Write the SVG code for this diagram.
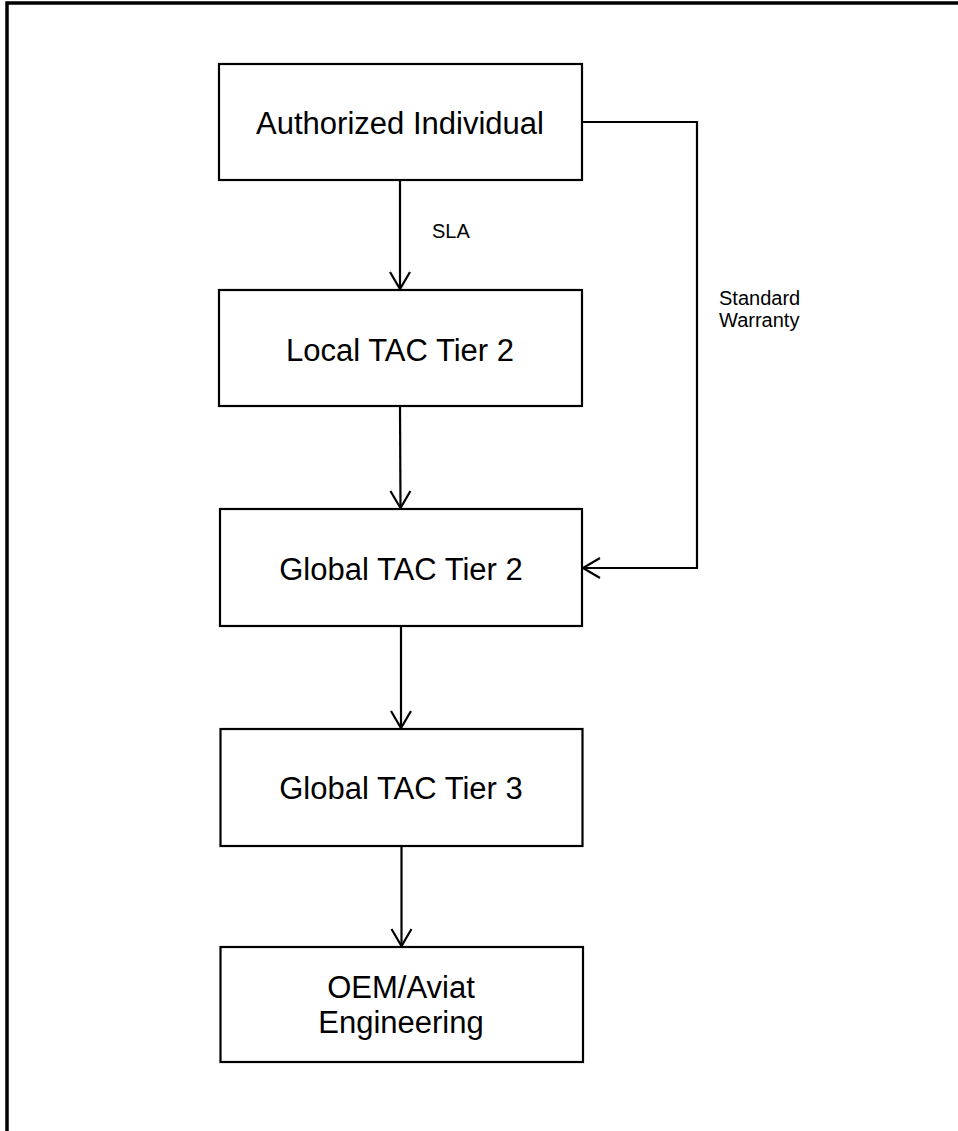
<svg xmlns="http://www.w3.org/2000/svg" width="958" height="1131" viewBox="0 0 958 1131">
<defs>
<style>
.box{fill:#fff;stroke:#000;stroke-width:2.2}
.lbl{font-family:"Liberation Sans",Arial,sans-serif;font-size:31px;fill:#000;text-anchor:middle}
.small{font-family:"Liberation Sans",Arial,sans-serif;font-size:20px;fill:#000}
.conn{fill:none;stroke:#000;stroke-width:2.2}
</style>
<marker id="arr" markerUnits="userSpaceOnUse" markerWidth="24" markerHeight="24" viewBox="-20 -12 24 24" refX="0" refY="0" orient="auto" overflow="visible">
<path d="M-17,-10 L0,0 L-17,10" fill="none" stroke="#000" stroke-width="2.2"/>
</marker>
</defs>
<rect width="958" height="1131" fill="#fff"/>
<rect id="frame" x="7" y="3" width="1000" height="1200" fill="none" stroke="#000" stroke-width="3.5"/>
<g id="connectors">
<line class="conn" x1="400" y1="180" x2="400" y2="289" marker-end="url(#arr)"/>
<line class="conn" x1="400" y1="406" x2="400.5" y2="508" marker-end="url(#arr)"/>
<line class="conn" x1="401" y1="626" x2="401" y2="728" marker-end="url(#arr)"/>
<line class="conn" x1="401.5" y1="846" x2="401.5" y2="946" marker-end="url(#arr)"/>
<polyline class="conn" points="582,122 697,122 697,568 583,568" marker-end="url(#arr)"/>
<text class="small" x="432" y="238">SLA</text>
<text class="small" x="719" y="305">Standard</text>
<text class="small" x="719" y="327">Warranty</text>
</g>
<g id="n1">
<rect class="box" x="219" y="64" width="363" height="116"/>
<text class="lbl" x="400" y="134">Authorized Individual</text>
</g>
<g id="n2">
<rect class="box" x="219" y="290" width="363" height="116"/>
<text class="lbl" x="400" y="361">Local TAC Tier 2</text>
</g>
<g id="n3">
<rect class="box" x="220" y="509" width="362" height="117"/>
<text class="lbl" x="401" y="580">Global TAC Tier 2</text>
</g>
<g id="n4">
<rect class="box" x="220.5" y="729" width="362" height="117"/>
<text class="lbl" x="401" y="799">Global TAC Tier 3</text>
</g>
<g id="n5">
<rect class="box" x="220.5" y="947" width="362.5" height="115"/>
<text class="lbl" x="401" y="998">OEM/Aviat</text>
<text class="lbl" x="401" y="1033">Engineering</text>
</g>
</svg>
